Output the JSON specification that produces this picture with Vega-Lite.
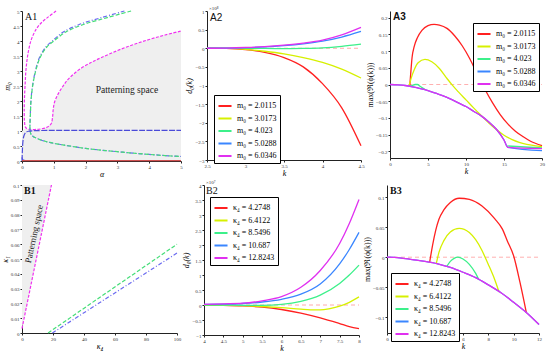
{
  "$schema": "https://vega.github.io/schema/vega-lite/v6.json",
  "background": "white",
  "padding": {"left": 1, "top": 6, "right": 2, "bottom": 1},
  "config": {
    "view": {"stroke": null},
    "font": "Liberation Serif",
    "axis": {"grid": false, "labelFontSize": 5, "titleFontSize": 8, "labelFont": "Liberation Serif", "titleFont": "Liberation Serif", "titleFontWeight": "normal", "domainColor": "#222", "tickColor": "#222", "labelColor": "#333", "titleColor": "#000", "tickSize": 2, "labelPadding": 1, "titlePadding": 1, "labelFlush": false, "labelOverlap": false, "format": "~r"},
    "legend": {"title": null, "symbolType": "stroke", "symbolStrokeWidth": 2, "symbolSize": 170, "labelFontSize": 8, "labelFont": "Liberation Serif", "labelColor": "#000", "strokeColor": "#000", "fillColor": "#fff", "padding": 3, "rowPadding": 0.5, "orient": "none"}
  },
  "datasets": {
    "a1": [
      {"s":"mag","i":1,"x":1.07,"y":5.0},{"s":"mag","i":2,"x":0.8,"y":4.78},{"s":"mag","i":3,"x":0.6,"y":4.6},{"s":"mag","i":4,"x":0.45,"y":4.4},{"s":"mag","i":5,"x":0.3,"y":4.07},{"s":"mag","i":6,"x":0.2,"y":3.65},{"s":"mag","i":7,"x":0.13,"y":3.1},{"s":"mag","i":8,"x":0.1,"y":2.6},{"s":"mag","i":9,"x":0.075,"y":2.0},{"s":"mag","i":10,"x":0.07,"y":1.6},{"s":"mag","i":11,"x":0.08,"y":1.3},{"s":"mag","i":12,"x":0.11,"y":1.12},{"s":"mag","i":13,"x":0.2,"y":1.06},{"s":"mag","i":14,"x":0.4,"y":1.05},{"s":"mag","i":15,"x":0.6,"y":1.07},{"s":"mag","i":16,"x":0.8,"y":1.13},{"s":"mag","i":17,"x":0.92,"y":1.25},{"s":"mag","i":18,"x":0.96,"y":1.45},{"s":"mag","i":19,"x":0.98,"y":1.7},{"s":"mag","i":20,"x":1.02,"y":1.95},{"s":"mag","i":21,"x":1.12,"y":2.2},{"s":"mag","i":22,"x":1.28,"y":2.48},{"s":"mag","i":23,"x":1.45,"y":2.72},{"s":"mag","i":24,"x":1.8,"y":3.05},{"s":"mag","i":25,"x":2.2,"y":3.3},{"s":"mag","i":26,"x":2.5,"y":3.45},{"s":"mag","i":27,"x":3.0,"y":3.68},{"s":"mag","i":28,"x":3.5,"y":3.88},{"s":"mag","i":29,"x":4.0,"y":4.05},{"s":"mag","i":30,"x":4.5,"y":4.2},{"s":"mag","i":31,"x":5.0,"y":4.33},
      {"s":"bh","i":1,"x":3.22,"y":5.0},{"s":"bh","i":2,"x":2.5,"y":4.78},{"s":"bh","i":3,"x":1.8,"y":4.55},{"s":"bh","i":4,"x":1.3,"y":4.3},{"s":"bh","i":5,"x":0.95,"y":4.0},{"s":"bh","i":6,"x":0.75,"y":3.8},{"s":"bh","i":7,"x":0.55,"y":3.45},{"s":"bh","i":8,"x":0.42,"y":3.0},{"s":"bh","i":9,"x":0.33,"y":2.5},{"s":"bh","i":10,"x":0.28,"y":2.0},{"s":"bh","i":11,"x":0.26,"y":1.5},{"s":"bh","i":12,"x":0.25,"y":1.2},{"s":"bh","i":13,"x":0.255,"y":1.0},{"s":"bh","i":14,"x":0.28,"y":0.9},{"s":"bh","i":15,"x":0.35,"y":0.82},{"s":"bh","i":16,"x":0.5,"y":0.74},{"s":"bh","i":17,"x":0.75,"y":0.65},{"s":"bh","i":18,"x":1.0,"y":0.59},{"s":"bh","i":19,"x":1.5,"y":0.5},{"s":"bh","i":20,"x":2.0,"y":0.42},{"s":"bh","i":21,"x":2.5,"y":0.36},{"s":"bh","i":22,"x":3.0,"y":0.31},{"s":"bh","i":23,"x":3.5,"y":0.26},{"s":"bh","i":24,"x":4.0,"y":0.22},{"s":"bh","i":25,"x":4.5,"y":0.18},{"s":"bh","i":26,"x":5.0,"y":0.15},
      {"s":"gh","i":1,"x":3.43,"y":5.0},{"s":"gh","i":2,"x":2.68,"y":4.78},{"s":"gh","i":3,"x":1.93,"y":4.55},{"s":"gh","i":4,"x":1.38,"y":4.3},{"s":"gh","i":5,"x":1.0,"y":4.0},{"s":"gh","i":6,"x":0.78,"y":3.8},{"s":"gh","i":7,"x":0.57,"y":3.45},{"s":"gh","i":8,"x":0.43,"y":3.0},{"s":"gh","i":9,"x":0.335,"y":2.5},{"s":"gh","i":10,"x":0.283,"y":2.0},{"s":"gh","i":11,"x":0.262,"y":1.5},{"s":"gh","i":12,"x":0.25,"y":1.2},{"s":"gh","i":13,"x":0.255,"y":1.0},{"s":"gh","i":14,"x":0.28,"y":0.9},{"s":"gh","i":15,"x":0.35,"y":0.82},{"s":"gh","i":16,"x":0.5,"y":0.74},{"s":"gh","i":17,"x":0.75,"y":0.65},{"s":"gh","i":18,"x":1.0,"y":0.59},{"s":"gh","i":19,"x":1.5,"y":0.5},{"s":"gh","i":20,"x":2.0,"y":0.42},{"s":"gh","i":21,"x":2.5,"y":0.36},{"s":"gh","i":22,"x":3.0,"y":0.31},{"s":"gh","i":23,"x":3.5,"y":0.26},{"s":"gh","i":24,"x":4.0,"y":0.22},{"s":"gh","i":25,"x":4.5,"y":0.18},{"s":"gh","i":26,"x":5.0,"y":0.15},
      {"s":"bl","i":1,"x":0.0,"y":0.0},{"s":"bl","i":2,"x":0.01,"y":0.3},{"s":"bl","i":3,"x":0.025,"y":0.6},{"s":"bl","i":4,"x":0.05,"y":0.8},{"s":"bl","i":5,"x":0.1,"y":0.93},{"s":"bl","i":6,"x":0.2,"y":0.99},{"s":"bl","i":7,"x":0.4,"y":1.01},{"s":"bl","i":8,"x":1.0,"y":1.02},{"s":"bl","i":9,"x":5.0,"y":1.02},
      {"s":"bb","i":1,"x":0.0,"y":0.12},{"s":"bb","i":2,"x":0.03,"y":0.04},{"s":"bb","i":3,"x":0.12,"y":0.015},
      {"s":"rb","i":1,"x":0.0,"y":0.012},{"s":"rb","i":2,"x":5.0,"y":0.012}
    ],
    "a1g": [
      {"x":0,"y":1.0},{"x":0.1,"y":1.08},{"x":0.2,"y":1.06},{"x":0.4,"y":1.05},{"x":0.6,"y":1.07},{"x":0.8,"y":1.13},{"x":0.92,"y":1.25},{"x":0.96,"y":1.45},{"x":0.98,"y":1.7},{"x":1.02,"y":1.95},{"x":1.12,"y":2.2},{"x":1.28,"y":2.48},{"x":1.45,"y":2.72},{"x":1.8,"y":3.05},{"x":2.2,"y":3.3},{"x":2.5,"y":3.45},{"x":3.0,"y":3.68},{"x":3.5,"y":3.88},{"x":4.0,"y":4.05},{"x":4.5,"y":4.2},{"x":5.0,"y":4.33}
    ],
    "a2": [
      {"s":"r","x":2.5,"y":0},{"s":"r","x":2.75,"y":-0.005},{"s":"r","x":3,"y":-0.035},{"s":"r","x":3.25,"y":-0.11},{"s":"r","x":3.5,"y":-0.25},{"s":"r","x":3.75,"y":-0.5},{"s":"r","x":4,"y":-0.95},{"s":"r","x":4.25,"y":-1.6},{"s":"r","x":4.5,"y":-2.62},
      {"s":"y","x":2.5,"y":0},{"s":"y","x":2.75,"y":-0.005},{"s":"y","x":3,"y":-0.03},{"s":"y","x":3.25,"y":-0.08},{"s":"y","x":3.5,"y":-0.15},{"s":"y","x":3.75,"y":-0.25},{"s":"y","x":4,"y":-0.38},{"s":"y","x":4.25,"y":-0.56},{"s":"y","x":4.5,"y":-0.8},
      {"s":"g","x":2.5,"y":0},{"s":"g","x":2.75,"y":0},{"s":"g","x":3,"y":-0.003},{"s":"g","x":3.25,"y":-0.006},{"s":"g","x":3.5,"y":-0.008},{"s":"g","x":3.75,"y":-0.004},{"s":"g","x":4,"y":0.01},{"s":"g","x":4.25,"y":0.05},{"s":"g","x":4.5,"y":0.11},
      {"s":"b","x":2.5,"y":0},{"s":"b","x":2.75,"y":0.004},{"s":"b","x":3,"y":0.015},{"s":"b","x":3.25,"y":0.035},{"s":"b","x":3.5,"y":0.07},{"s":"b","x":3.75,"y":0.12},{"s":"b","x":4,"y":0.19},{"s":"b","x":4.25,"y":0.3},{"s":"b","x":4.5,"y":0.45},
      {"s":"m","x":2.5,"y":0},{"s":"m","x":2.75,"y":0.005},{"s":"m","x":3,"y":0.02},{"s":"m","x":3.25,"y":0.045},{"s":"m","x":3.5,"y":0.085},{"s":"m","x":3.75,"y":0.14},{"s":"m","x":4,"y":0.22},{"s":"m","x":4.25,"y":0.36},{"s":"m","x":4.5,"y":0.56}
    ],
    "a3": [
      {"s":"r","seg":"r1","x":2.6,"y":-0.005},{"s":"r","seg":"r1","x":2.75,"y":0.04},{"s":"r","seg":"r1","x":2.9,"y":0.08},{"s":"r","seg":"r1","x":3.2,"y":0.115},{"s":"r","seg":"r1","x":3.6,"y":0.14},{"s":"r","seg":"r1","x":4.2,"y":0.162},{"s":"r","seg":"r1","x":5,"y":0.176},{"s":"r","seg":"r1","x":5.8,"y":0.18},{"s":"r","seg":"r1","x":6.5,"y":0.178},{"s":"r","seg":"r1","x":7.5,"y":0.168},{"s":"r","seg":"r1","x":8.5,"y":0.146},{"s":"r","seg":"r1","x":9.5,"y":0.116},{"s":"r","seg":"r1","x":10.5,"y":0.077},{"s":"r","seg":"r1","x":11.5,"y":0.03},{"s":"r","seg":"r1","x":12.5,"y":-0.015},{"s":"r","seg":"r1","x":13.5,"y":-0.055},{"s":"r","seg":"r1","x":14.5,"y":-0.09},{"s":"r","seg":"r1","x":15.5,"y":-0.118},{"s":"r","seg":"r1","x":16.5,"y":-0.14},{"s":"r","seg":"r1","x":17.5,"y":-0.156},{"s":"r","seg":"r1","x":18.5,"y":-0.17},{"s":"r","seg":"r1","x":20,"y":-0.183},
      {"s":"y","seg":"y1","x":2.5,"y":-0.005},{"s":"y","seg":"y1","x":2.8,"y":0.02},{"s":"y","seg":"y1","x":3.2,"y":0.045},{"s":"y","seg":"y1","x":3.7,"y":0.065},{"s":"y","seg":"y1","x":4.6,"y":0.075},{"s":"y","seg":"y1","x":5.5,"y":0.068},{"s":"y","seg":"y1","x":6.5,"y":0.048},{"s":"y","seg":"y1","x":7.5,"y":0.018},{"s":"y","seg":"y1","x":8.2,"y":-0.002},{"s":"y","seg":"y1","x":9,"y":-0.022},{"s":"y","seg":"y1","x":10,"y":-0.046},{"s":"y","seg":"y1","x":11,"y":-0.07},{"s":"y","seg":"y1","x":12,"y":-0.093},{"s":"y","seg":"y1","x":13,"y":-0.115},{"s":"y","seg":"y1","x":14,"y":-0.135},{"s":"y","seg":"y1","x":15,"y":-0.152},{"s":"y","seg":"y1","x":16,"y":-0.164},{"s":"y","seg":"y1","x":17,"y":-0.173},{"s":"y","seg":"y1","x":18,"y":-0.179},{"s":"y","seg":"y1","x":19,"y":-0.183},{"s":"y","seg":"y1","x":20,"y":-0.186},
      {"s":"g","seg":"g1","x":2.6,"y":-0.005},{"s":"g","seg":"g1","x":2.9,"y":-0.003},{"s":"g","seg":"g1","x":3.3,"y":0.0},{"s":"g","seg":"g1","x":3.6,"y":0.0},{"s":"g","seg":"g1","x":4.0,"y":-0.006},{"s":"g","seg":"g1","x":4.6,"y":-0.015},
      {"s":"g","seg":"g2","x":15.45,"y":-0.184},{"s":"g","seg":"g2","x":20,"y":-0.19},
      {"s":"b","seg":"b1","x":0,"y":0},{"s":"b","seg":"b1","x":1,"y":-0.001},{"s":"b","seg":"b1","x":2,"y":-0.003},{"s":"b","seg":"b1","x":3,"y":-0.007},{"s":"b","seg":"b1","x":4,"y":-0.012},{"s":"b","seg":"b1","x":5,"y":-0.018},{"s":"b","seg":"b1","x":6,"y":-0.026},{"s":"b","seg":"b1","x":7,"y":-0.034},{"s":"b","seg":"b1","x":8,"y":-0.044},{"s":"b","seg":"b1","x":9,"y":-0.055},{"s":"b","seg":"b1","x":10,"y":-0.066},{"s":"b","seg":"b1","x":11,"y":-0.08},{"s":"b","seg":"b1","x":12,"y":-0.094},{"s":"b","seg":"b1","x":13,"y":-0.112},{"s":"b","seg":"b1","x":14,"y":-0.134},{"s":"b","seg":"b1","x":15,"y":-0.166},{"s":"b","seg":"b1","x":15.5,"y":-0.188},{"s":"b","seg":"b1","x":20,"y":-0.198},
      {"s":"m","seg":"m1","x":0,"y":0},{"s":"m","seg":"m1","x":1,"y":-0.001},{"s":"m","seg":"m1","x":2,"y":-0.003},{"s":"m","seg":"m1","x":3,"y":-0.007},{"s":"m","seg":"m1","x":4,"y":-0.012},{"s":"m","seg":"m1","x":5,"y":-0.018},{"s":"m","seg":"m1","x":6,"y":-0.026},{"s":"m","seg":"m1","x":7,"y":-0.034},{"s":"m","seg":"m1","x":8,"y":-0.044},{"s":"m","seg":"m1","x":9,"y":-0.055},{"s":"m","seg":"m1","x":10,"y":-0.066},{"s":"m","seg":"m1","x":11,"y":-0.08},{"s":"m","seg":"m1","x":12,"y":-0.094},{"s":"m","seg":"m1","x":13,"y":-0.112},{"s":"m","seg":"m1","x":14,"y":-0.134},{"s":"m","seg":"m1","x":15,"y":-0.166},{"s":"m","seg":"m1","x":15.5,"y":-0.188},{"s":"m","seg":"m1","x":20,"y":-0.192}
    ],
    "b1": [
      {"s":"grn","x":16.8,"y":0},{"s":"grn","x":100,"y":0.06},
      {"s":"blu","x":19.6,"y":0},{"s":"blu","x":100,"y":0.054},
      {"s":"mag","x":0,"y":0.003},{"s":"mag","x":19,"y":0.1}
    ],
    "b1g": [{"x":0,"y":0.003},{"x":19,"y":0.1}],
    "b2": [
      {"s":"r","x":4,"y":0},{"s":"r","x":4.5,"y":-0.01},{"s":"r","x":5,"y":-0.03},{"s":"r","x":5.5,"y":-0.07},{"s":"r","x":6,"y":-0.15},{"s":"r","x":6.5,"y":-0.27},{"s":"r","x":7,"y":-0.43},{"s":"r","x":7.5,"y":-0.62},{"s":"r","x":7.75,"y":-0.72},{"s":"r","x":8,"y":-0.79},
      {"s":"y","x":4,"y":0},{"s":"y","x":4.5,"y":-0.01},{"s":"y","x":5,"y":-0.02},{"s":"y","x":5.5,"y":-0.05},{"s":"y","x":6,"y":-0.09},{"s":"y","x":6.5,"y":-0.14},{"s":"y","x":6.75,"y":-0.16},{"s":"y","x":7,"y":-0.165},{"s":"y","x":7.25,"y":-0.12},{"s":"y","x":7.5,"y":-0.04},{"s":"y","x":7.75,"y":0.09},{"s":"y","x":8,"y":0.27},
      {"s":"g","x":4,"y":0},{"s":"g","x":4.5,"y":0},{"s":"g","x":5,"y":-0.01},{"s":"g","x":5.5,"y":-0.01},{"s":"g","x":6,"y":0.02},{"s":"g","x":6.5,"y":0.12},{"s":"g","x":7,"y":0.33},{"s":"g","x":7.5,"y":0.72},{"s":"g","x":7.75,"y":1.0},{"s":"g","x":8,"y":1.33},
      {"s":"b","x":4,"y":0.02},{"s":"b","x":4.5,"y":0.03},{"s":"b","x":5,"y":0.05},{"s":"b","x":5.5,"y":0.1},{"s":"b","x":6,"y":0.19},{"s":"b","x":6.5,"y":0.36},{"s":"b","x":7,"y":0.7},{"s":"b","x":7.5,"y":1.37},{"s":"b","x":7.75,"y":1.85},{"s":"b","x":8,"y":2.42},
      {"s":"m","x":4,"y":0.02},{"s":"m","x":4.5,"y":0.04},{"s":"m","x":5,"y":0.06},{"s":"m","x":5.5,"y":0.14},{"s":"m","x":6,"y":0.28},{"s":"m","x":6.5,"y":0.59},{"s":"m","x":7,"y":1.15},{"s":"m","x":7.5,"y":2.05},{"s":"m","x":7.75,"y":2.72},{"s":"m","x":8,"y":3.52}
    ],
    "b3": [
      {"s":"r","x":3.37,"y":-0.008},{"s":"r","x":3.6,"y":0.02},{"s":"r","x":3.85,"y":0.045},{"s":"r","x":4.1,"y":0.063},{"s":"r","x":4.5,"y":0.079},{"s":"r","x":5,"y":0.091},{"s":"r","x":5.7,"y":0.098},{"s":"r","x":6.5,"y":0.096},{"s":"r","x":7.5,"y":0.085},{"s":"r","x":8.5,"y":0.064},{"s":"r","x":9.1,"y":0.047},{"s":"r","x":9.5,"y":0.027},{"s":"r","x":10,"y":0.002},{"s":"r","x":10.5,"y":-0.042},{"s":"r","x":11,"y":-0.092},
      {"s":"y","x":3.9,"y":-0.01},{"s":"y","x":4.1,"y":0.008},{"s":"y","x":4.5,"y":0.028},{"s":"y","x":5,"y":0.042},{"s":"y","x":5.7,"y":0.048},{"s":"y","x":6.5,"y":0.041},{"s":"y","x":7,"y":0.029},{"s":"y","x":7.5,"y":0.011},{"s":"y","x":7.7,"y":0.002},{"s":"y","x":8,"y":-0.012},{"s":"y","x":8.5,"y":-0.037},{"s":"y","x":8.85,"y":-0.058},
      {"s":"g","x":4.7,"y":-0.016},{"s":"g","x":5,"y":-0.007},{"s":"g","x":5.3,"y":-0.002},{"s":"g","x":5.6,"y":0.0},{"s":"g","x":6,"y":-0.003},{"s":"g","x":6.5,"y":-0.012},{"s":"g","x":7,"y":-0.027},{"s":"g","x":7.26,"y":-0.038},
      {"s":"b","x":0,"y":0},{"s":"b","x":1,"y":-0.001},{"s":"b","x":2,"y":-0.004},{"s":"b","x":3,"y":-0.007},{"s":"b","x":4,"y":-0.011},{"s":"b","x":5,"y":-0.017},{"s":"b","x":6,"y":-0.025},{"s":"b","x":7,"y":-0.034},{"s":"b","x":8,"y":-0.046},{"s":"b","x":9,"y":-0.059},{"s":"b","x":10,"y":-0.075},{"s":"b","x":11,"y":-0.092},{"s":"b","x":12,"y":-0.112},
      {"s":"m","x":0,"y":0},{"s":"m","x":1,"y":-0.001},{"s":"m","x":2,"y":-0.004},{"s":"m","x":3,"y":-0.007},{"s":"m","x":4,"y":-0.011},{"s":"m","x":5,"y":-0.017},{"s":"m","x":6,"y":-0.025},{"s":"m","x":7,"y":-0.034},{"s":"m","x":8,"y":-0.046},{"s":"m","x":9,"y":-0.059},{"s":"m","x":10,"y":-0.075},{"s":"m","x":11,"y":-0.092},{"s":"m","x":12,"y":-0.112}
    ]
  },
  "resolve": {"scale": {"color": "independent", "strokeDash": "independent"}, "legend": {"color": "independent", "strokeDash": "independent"}},
  "spacing": 2,
  "vconcat": [
    {
      "spacing": 1,
      "resolve": {"scale": {"color": "independent", "strokeDash": "independent"}, "legend": {"color": "independent", "strokeDash": "independent"}},
      "hconcat": [
        {
          "width": 159, "height": 150,
          "encoding": {
            "x": {"field": "x", "type": "quantitative", "scale": {"domain": [0, 5], "nice": false}, "axis": {"values": [0,1,2,3,4,5], "title": "α", "titleFontStyle": "italic"}},
            "y": {"field": "y", "type": "quantitative", "scale": {"domain": [0, 5], "nice": false}, "axis": {"values": [0,0.5,1,1.5,2,2.5,3,3.5,4,4.5,5], "title": "m₀", "titleFontStyle": "italic"}}
          },
          "layer": [
            {"data": {"name": "a1g"}, "mark": {"type": "area", "color": "#efefef"}, "encoding": {"y2": {"datum": 0}}},
            {"data": {"name": "a1"}, "mark": {"type": "line", "strokeWidth": 1.2, "interpolate": "catmull-rom"},
             "encoding": {
               "order": {"field": "i"},
               "color": {"field": "s", "type": "nominal", "legend": null, "scale": {"domain": ["rb","bb","bl","gh","bh","mag"], "range": ["#d05050","#5050e0","#4a4ad8","#44dd77","#6a6af0","#f030f0"]}},
               "strokeDash": {"field": "s", "type": "nominal", "legend": null, "scale": {"domain": ["rb","bb","bl","gh","bh","mag"], "range": [[1,0],[1,0],[6,1.5],[4,2],[4,2,1,2],[3,1.5]]}}}},
            {"data": {"values": [{"x": 3.3, "y": 2.36, "t": "Patterning space"}]}, "mark": {"type": "text", "fontSize": 9.5, "font": "Liberation Serif", "color": "#222"}, "encoding": {"text": {"field": "t"}}},
            {"data": {"values": [{"x": 0, "y": 5, "t": "A1"}]}, "mark": {"type": "text", "fontSize": 10, "font": "Liberation Serif", "align": "left", "baseline": "top", "dx": 3, "dy": 1, "color": "#111"}, "encoding": {"text": {"field": "t"}}}
          ]
        },
        {
          "width": 154, "height": 149,
          "encoding": {
            "x": {"field": "x", "type": "quantitative", "scale": {"domain": [2.5, 4.5], "nice": false}, "axis": {"values": [2.5,3,3.5,4,4.5], "title": "k", "titleFontStyle": "italic"}},
            "y": {"field": "y", "type": "quantitative", "scale": {"domain": [-3, 1], "nice": false}, "axis": {"values": [-3,-2.5,-2,-1.5,-1,-0.5,0,0.5,1], "title": "d₀(k)", "titleFontStyle": "italic"}}
          },
          "layer": [
            {"data": {"values": [{"x": 2.5, "y": 0}, {"x": 4.5, "y": 0}]}, "mark": {"type": "line", "color": "#ffaaaa", "strokeDash": [4, 3], "strokeWidth": 1}},
            {"data": {"name": "a2"}, "mark": {"type": "line", "strokeWidth": 1.3, "interpolate": "monotone"},
             "encoding": {
               "color": {"field": "s", "type": "nominal", "scale": {"domain": ["r","y","g","b","m"], "range": ["#ff2020","#d6f000","#3cf08a","#3a86ff","#e030f0"]},
                 "legend": {"legendX": 7, "legendY": 84, "labelExpr": "{'r':'m₀ = 2.0115','y':'m₀ = 3.0173','g':'m₀ = 4.023','b':'m₀ = 5.0288','m':'m₀ = 6.0346'}[datum.label]"}}}},
            {"data": {"values": [{"x": 2.5, "y": 1, "t": "A2"}]}, "mark": {"type": "text", "fontSize": 10, "font": "Liberation Sans", "align": "left", "baseline": "top", "dx": 3, "dy": 2, "color": "#111"}, "encoding": {"text": {"field": "t"}}},
            {"data": {"values": [{"x": 2.5, "y": 1, "t": "×10⁸"}]}, "mark": {"type": "text", "fontSize": 5, "align": "left", "baseline": "bottom", "dx": 2, "dy": 0, "color": "#333"}, "encoding": {"text": {"field": "t"}}}
          ]
        },
        {
          "width": 152, "height": 147,
          "encoding": {
            "x": {"field": "x", "type": "quantitative", "scale": {"domain": [0, 20], "nice": false}, "axis": {"values": [0,5,10,15,20], "title": "k", "titleFontStyle": "italic"}},
            "y": {"field": "y", "type": "quantitative", "scale": {"domain": [-0.22, 0.22], "nice": false}, "axis": {"values": [-0.2,-0.15,-0.1,-0.05,0,0.05,0.1,0.15,0.2], "title": "max(ℜ(ϕ(k)))"}}
          },
          "layer": [
            {"data": {"values": [{"x": 2.4, "y": 0}, {"x": 20, "y": 0}]}, "mark": {"type": "line", "color": "#ffb0b0", "strokeDash": [4, 3], "strokeWidth": 1}},
            {"data": {"name": "a3"}, "mark": {"type": "line", "strokeWidth": 1.3, "interpolate": "monotone"},
             "encoding": {
               "detail": {"field": "seg"},
               "color": {"field": "s", "type": "nominal", "scale": {"domain": ["r","y","g","b","m"], "range": ["#ff2020","#d6f000","#3cf08a","#3a86ff","#e030f0"]},
                 "legend": {"legendX": 83, "legendY": 12, "labelExpr": "{'r':'m₀ = 2.0115','y':'m₀ = 3.0173','g':'m₀ = 4.023','b':'m₀ = 5.0288','m':'m₀ = 6.0346'}[datum.label]"}}}},
            {"data": {"values": [{"x": 0, "y": 0.22, "t": "A3"}]}, "mark": {"type": "text", "fontSize": 10, "font": "Liberation Sans", "fontWeight": "bold", "align": "left", "baseline": "top", "dx": 3, "dy": 1, "color": "#111"}, "encoding": {"text": {"field": "t"}}}
          ]
        }
      ]
    },
    {
      "spacing": 1,
      "resolve": {"scale": {"color": "independent", "strokeDash": "independent"}, "legend": {"color": "independent", "strokeDash": "independent"}},
      "hconcat": [
        {
          "width": 155, "height": 148,
          "encoding": {
            "x": {"field": "x", "type": "quantitative", "scale": {"domain": [0, 100], "nice": false}, "axis": {"values": [0,20,40,60,80,100], "title": "κ₄", "titleFontStyle": "italic"}},
            "y": {"field": "y", "type": "quantitative", "scale": {"domain": [0, 0.1], "nice": false}, "axis": {"values": [0,0.01,0.02,0.03,0.04,0.05,0.06,0.07,0.08,0.09,0.1], "title": "κ₁", "titleFontStyle": "italic"}}
          },
          "layer": [
            {"data": {"name": "b1g"}, "mark": {"type": "area", "color": "#efefef"}, "encoding": {"y2": {"datum": 0.1}}},
            {"data": {"name": "b1"}, "mark": {"type": "line", "strokeWidth": 1.2},
             "encoding": {
               "color": {"field": "s", "type": "nominal", "legend": null, "scale": {"domain": ["grn","blu","mag"], "range": ["#44dd77","#6a6af0","#f030f0"]}},
               "strokeDash": {"field": "s", "type": "nominal", "legend": null, "scale": {"domain": ["grn","blu","mag"], "range": [[4,2],[4,2,1,2],[3,1.5]]}}}},
            {"data": {"values": [{"x": 7.8, "y": 0.067, "t": "Patterning space"}]}, "mark": {"type": "text", "fontSize": 9, "font": "Liberation Serif", "angle": 282, "color": "#222"}, "encoding": {"text": {"field": "t"}}},
            {"data": {"values": [{"x": 0, "y": 0.1, "t": "B1"}]}, "mark": {"type": "text", "fontSize": 10, "font": "Liberation Serif", "fontWeight": "bold", "align": "left", "baseline": "top", "dx": 2, "dy": 1, "color": "#111"}, "encoding": {"text": {"field": "t"}}}
          ]
        },
        {
          "width": 155, "height": 150,
          "encoding": {
            "x": {"field": "x", "type": "quantitative", "scale": {"domain": [4, 8], "nice": false}, "axis": {"values": [4,4.5,5,5.5,6,6.5,7,7.5,8], "title": "k", "titleFontStyle": "italic"}},
            "y": {"field": "y", "type": "quantitative", "scale": {"domain": [-1, 4], "nice": false}, "axis": {"values": [-1,-0.5,0,0.5,1,1.5,2,2.5,3,3.5,4], "title": "d₀(k)", "titleFontStyle": "italic"}}
          },
          "layer": [
            {"data": {"values": [{"x": 4, "y": 0}, {"x": 8, "y": 0}]}, "mark": {"type": "line", "color": "#ffaaaa", "strokeDash": [4, 3], "strokeWidth": 1}},
            {"data": {"name": "b2"}, "mark": {"type": "line", "strokeWidth": 1.3, "interpolate": "monotone"},
             "encoding": {
               "color": {"field": "s", "type": "nominal", "scale": {"domain": ["r","y","g","b","m"], "range": ["#ff2020","#d6f000","#3cf08a","#3a86ff","#e030f0"]},
                 "legend": {"legendX": 6, "legendY": 12, "labelExpr": "{'r':'κ₄ = 4.2748','y':'κ₄ = 6.4122','g':'κ₄ = 8.5496','b':'κ₄ = 10.687','m':'κ₄ = 12.8243'}[datum.label]"}}}},
            {"data": {"values": [{"x": 4, "y": 4, "t": "B2"}]}, "mark": {"type": "text", "fontSize": 10, "font": "Liberation Serif", "align": "left", "baseline": "top", "dx": 2, "dy": 1, "color": "#111"}, "encoding": {"text": {"field": "t"}}},
            {"data": {"values": [{"x": 4, "y": 4, "t": "×10⁷"}]}, "mark": {"type": "text", "fontSize": 5, "align": "left", "baseline": "bottom", "dx": 2, "dy": 0, "color": "#333"}, "encoding": {"text": {"field": "t"}}}
          ]
        },
        {
          "width": 152, "height": 148,
          "encoding": {
            "x": {"field": "x", "type": "quantitative", "scale": {"domain": [0, 12], "nice": false}, "axis": {"values": [0,2,4,6,8,10,12], "title": "k", "titleFontStyle": "italic"}},
            "y": {"field": "y", "type": "quantitative", "scale": {"domain": [-0.126, 0.12], "nice": false}, "axis": {"values": [-0.1,-0.05,0,0.05,0.1], "title": "max(ℜ(ϕ(k)))"}}
          },
          "layer": [
            {"data": {"values": [{"x": 0, "y": 0}, {"x": 12, "y": 0}]}, "mark": {"type": "line", "color": "#ffb0b0", "strokeDash": [4, 3], "strokeWidth": 1}},
            {"data": {"name": "b3"}, "mark": {"type": "line", "strokeWidth": 1.3, "interpolate": "monotone"},
             "encoding": {
               "color": {"field": "s", "type": "nominal", "scale": {"domain": ["r","y","g","b","m"], "range": ["#ff2020","#d6f000","#3cf08a","#3a86ff","#e030f0"]},
                 "legend": {"legendX": 4, "legendY": 88, "labelExpr": "{'r':'κ₄ = 4.2748','y':'κ₄ = 6.4122','g':'κ₄ = 8.5496','b':'κ₄ = 10.687','m':'κ₄ = 12.8243'}[datum.label]"}}}},
            {"data": {"values": [{"x": 0, "y": 0.12, "t": "B3"}]}, "mark": {"type": "text", "fontSize": 10, "font": "Liberation Serif", "fontWeight": "bold", "align": "left", "baseline": "top", "dx": 3, "dy": 1, "color": "#111"}, "encoding": {"text": {"field": "t"}}}
          ]
        }
      ]
    }
  ]
}
